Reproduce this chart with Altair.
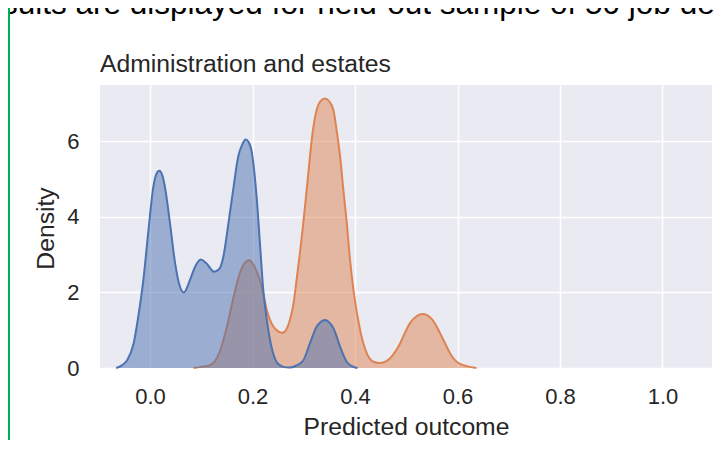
import altair as alt
import pandas as pd

# ---- data ----
blue_x = [-0.066, -0.055, -0.045, -0.032, -0.023, -0.013, -0.003, 0.0065, 0.012, 0.018,
          0.024, 0.029, 0.039, 0.049, 0.0585, 0.066, 0.078, 0.088, 0.099, 0.11,
          0.125, 0.135, 0.143, 0.153, 0.163, 0.172, 0.18, 0.187, 0.193, 0.198,
          0.208, 0.215, 0.221, 0.228, 0.237, 0.247, 0.26, 0.272, 0.285, 0.299,
          0.312, 0.325, 0.333, 0.341, 0.349, 0.358, 0.371, 0.384, 0.397, 0.405]
blue_d = [0.0, 0.07, 0.2, 0.65, 1.35, 2.33, 3.65, 4.8, 5.12, 5.22,
          5.1, 4.8, 3.83, 2.77, 2.15, 2.0, 2.33, 2.68, 2.87, 2.77,
          2.55, 2.62, 2.94, 3.83, 4.79, 5.59, 5.92, 6.05, 5.97, 5.76,
          4.53, 3.2, 2.06, 1.27, 0.56, 0.16, 0.03, 0.01, 0.06, 0.2,
          0.65, 1.09, 1.22, 1.27, 1.22, 1.05, 0.56, 0.16, 0.03, 0.0]

orange_x = [0.085, 0.1, 0.113, 0.124, 0.137, 0.15, 0.163, 0.175, 0.186, 0.194,
            0.205, 0.218, 0.228, 0.241, 0.25, 0.258, 0.266, 0.273, 0.28, 0.286,
            0.293, 0.299, 0.306, 0.312, 0.318, 0.325, 0.333, 0.341, 0.349, 0.358,
            0.364, 0.371, 0.377, 0.384, 0.39, 0.397, 0.41, 0.423, 0.437, 0.449,
            0.458, 0.468, 0.478, 0.488, 0.497, 0.507, 0.52, 0.532, 0.544, 0.556,
            0.566, 0.576, 0.585, 0.595, 0.606, 0.618, 0.637]
orange_d = [0.0, 0.03, 0.06, 0.14, 0.47, 1.09, 1.88, 2.5, 2.8, 2.85,
            2.65, 2.15, 1.53, 1.09, 0.97, 0.93, 1.02, 1.27, 1.7, 2.33,
            3.1, 3.83, 4.75, 5.59, 6.3, 6.82, 7.07, 7.13, 7.07, 6.82,
            6.3, 5.59, 4.75, 3.83, 2.9, 2.06, 1.0, 0.39, 0.16, 0.13,
            0.16, 0.25, 0.42, 0.65, 0.92, 1.18, 1.37, 1.43, 1.37, 1.18,
            0.92, 0.65, 0.4, 0.21, 0.1, 0.05, 0.0]

x_ticks = [0.0, 0.2, 0.4, 0.6, 0.8, 1.0]
y_ticks = [0, 2, 4, 6]
title_text = "Administration and estates"
x_title = "Predicted outcome"
y_title = "Density"
top_text = "sults are displayed for held-out sample of 50 job des"

FONT = "Liberation Sans"
INK = "#262626"
BLUE = "#4c72b0"
ORANGE = "#dd8452"

blue_df = pd.DataFrame({"x": blue_x, "d": blue_d})
orange_df = pd.DataFrame({"x": orange_x, "d": orange_d})

xs = alt.Scale(domain=[-0.0976, 1.0966], nice=False, zero=False)
ys = alt.Scale(domain=[0, 7.49], nice=False)

xax = alt.Axis(values=x_ticks, format=".1f", title=x_title, grid=True, ticks=False,
               tickSize=0, domain=False, labelPadding=18, labelFontSize=22,
               labelFlush=False, labelColor=INK, labelFont=FONT,
               titleFontSize=24.7, titleFontWeight="normal", titleColor=INK,
               titleFont=FONT, titleBaseline="alphabetic", titleY=66,
               gridColor="white", gridWidth=1.5)
yax = alt.Axis(values=y_ticks, title=y_title, grid=True, ticks=False, tickSize=0,
               domain=False, labelPadding=21, labelFontSize=22, labelColor=INK,
               labelFont=FONT, titleFontSize=24.7, titleFontWeight="normal",
               titleColor=INK, titleFont=FONT, titleBaseline="alphabetic",
               titleAngle=270, titleX=-47, titleY=143,
               gridColor="white", gridWidth=1.5)

def enc(ch):
    return ch.encode(x=alt.X("x:Q", scale=xs, axis=xax),
                     y=alt.Y("d:Q", scale=ys, axis=yax))

area_o = enc(alt.Chart(orange_df).mark_area(interpolate="monotone", color=ORANGE, opacity=0.5))
line_o = enc(alt.Chart(orange_df).mark_line(interpolate="monotone", color=ORANGE, strokeWidth=2))
area_b = enc(alt.Chart(blue_df).mark_area(interpolate="monotone", color=BLUE, opacity=0.5))
line_b = enc(alt.Chart(blue_df).mark_line(interpolate="monotone", color=BLUE, strokeWidth=2))

title = alt.Chart(pd.DataFrame({"t": [title_text]})).mark_text(
    align="left", baseline="alphabetic", fontSize=24.7, font=FONT, color=INK
).encode(x=alt.value(0), y=alt.value(-13.3), text="t:N")

top = alt.Chart(pd.DataFrame({"t": [top_text]})).mark_text(
    align="left", baseline="alphabetic", fontSize=31.5, font=FONT, color="black"
).encode(x=alt.value(-98), y=alt.value(-71), text="t:N")

green = alt.Chart(pd.DataFrame({"a": [0]})).mark_rule(color="#00b050", strokeWidth=2).encode(
    x=alt.value(-91), y=alt.value(-85), y2=alt.value(355))

chart = alt.layer(area_o, line_o, area_b, line_b, title, top, green).properties(
    width=612, height=283,
    autosize=alt.AutoSizeParams(type="none"),
    padding={"left": 92, "top": 77, "right": 2, "bottom": 72},
).configure_view(fill="#eaeaf2", strokeWidth=0)

chart.save("out.html", embed_options={"renderer": "svg", "actions": False})
